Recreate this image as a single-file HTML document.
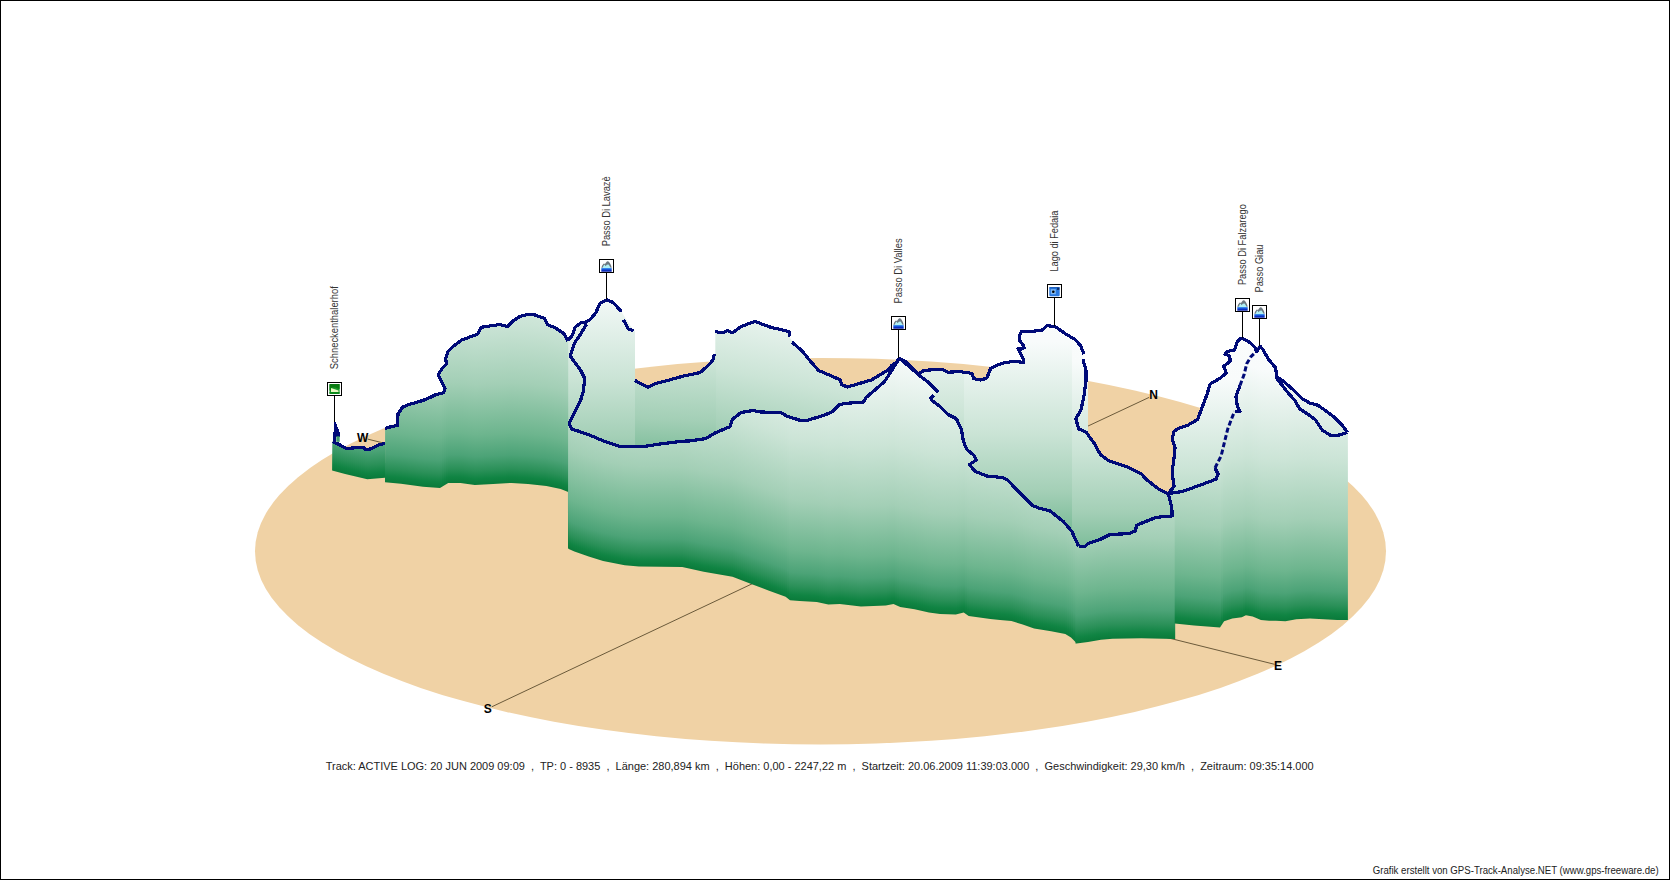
<!DOCTYPE html><html><head><meta charset="utf-8"><style>html,body{margin:0;padding:0;background:#fff;overflow:hidden}svg{display:block}</style></head><body>
<svg width="1670" height="880" viewBox="0 0 1670 880">
<defs>
<linearGradient id="g" x1="0" y1="0" x2="0" y2="1"><stop offset="0" stop-color="#ffffff"/><stop offset="0.3571" stop-color="#f8fbfb"/><stop offset="0.5714" stop-color="#cbe4d6"/><stop offset="0.7143" stop-color="#a3cfb6"/><stop offset="0.8333" stop-color="#6db58e"/><stop offset="0.8857" stop-color="#4ca377"/><stop offset="0.9190" stop-color="#2a9058"/><stop offset="0.9381" stop-color="#108443"/><stop offset="0.9524" stop-color="#0a7a3a"/><stop offset="1" stop-color="#0a7b3b"/></linearGradient>
<linearGradient id="ic" x1="0" y1="0" x2="0" y2="1"><stop offset="0" stop-color="#9fd8ff"/><stop offset="0.45" stop-color="#2a8df0"/><stop offset="1" stop-color="#0a2fa8"/></linearGradient>
<clipPath id="cB2"><polygon points="715.3,331.7 722.5,332.7 727.6,330.7 732.7,332.7 740.9,326.6 749.1,323.5 755.2,321.5 763.4,324.6 771.6,327.6 781.8,329.7 789.0,331.7 790.0,337.9 794.1,344.0 802.3,351.2 810.5,361.4 818.7,370.6 831.0,375.7 840.5,380.0 841.6,384.5 847.2,387.0 855.9,384.5 871.8,379.8 887.7,370.2 891.7,365.5 897.3,361.5 899.1,358.3 899.1,600.0 715.3,600.0"/></clipPath>
<clipPath id="cB1"><polygon points="634.7,380.3 641.8,384.3 648.0,387.4 656.2,383.3 668.4,380.3 682.8,376.2 693.0,374.1 700.0,372.6 703.2,370.0 710.2,363.4 713.3,359.3 714.3,354.2 716.0,354.2 716.0,520.0 634.7,520.0"/></clipPath>
<clipPath id="cW3"><polygon points="899.1,358.3 905.2,361.4 918.0,374.0 924.0,370.4 941.9,369.2 947.9,372.2 959.9,371.6 971.9,373.4 973.7,378.7 980.8,380.0 986.8,378.1 990.7,368.3 996.4,365.5 1004.9,362.6 1013.4,361.5 1023.6,362.3 1023.0,358.6 1020.2,353.0 1018.0,348.4 1021.4,349.0 1024.2,347.8 1023.0,345.0 1019.1,339.9 1019.7,334.8 1021.4,331.4 1031.6,331.4 1041.9,330.3 1047.1,325.6 1055.2,326.6 1065.5,333.8 1075.7,339.9 1080.8,346.0 1083.9,354.2 1082.9,359.3 1085.9,369.6 1085.9,381.8 1088.0,381.8 1088.0,433.0 1094.3,443.4 1100.5,454.7 1108.6,460.8 1127.1,467.0 1141.4,474.1 1147.5,480.3 1157.7,488.4 1168.0,493.6 1172.1,515.0 1172.1,620.0 899.1,620.0"/></clipPath>
<clipPath id="cFZ"><polygon points="1168.0,493.6 1174.1,486.4 1172.1,472.1 1174.1,457.7 1175.1,447.5 1172.1,439.3 1174.1,431.2 1180.0,427.7 1188.2,425.0 1197.7,419.5 1199.1,415.5 1203.2,404.5 1207.3,393.6 1210.0,384.1 1219.5,378.6 1226.4,373.2 1223.6,366.4 1230.5,360.9 1229.1,355.5 1225.0,354.1 1227.7,351.4 1234.5,350.0 1237.3,341.8 1240.7,338.4 1244.1,339.1 1250.9,343.2 1255.0,347.3 1256.4,351.4 1259.1,348.6 1259.8,345.9 1259.8,345.9 1256.4,351.4 1250.9,356.8 1246.8,363.6 1244.1,374.5 1240.0,385.5 1235.9,396.4 1237.3,405.9 1240.0,411.4 1234.5,411.4 1231.8,418.2 1227.7,429.1 1225.0,440.0 1221.2,455.7 1215.0,468.0 1218.1,474.1 1216.1,479.2 1196.6,486.4 1182.3,491.5 1168.0,493.6"/></clipPath>
<clipPath id="cL"><polygon points="567.8,340.9 572.3,335.2 575.3,327.1 580.5,323.0 586.6,321.9 590.7,318.9 595.8,312.7 599.9,303.5 606.6,299.8 613.2,302.5 621.4,311.7 633.7,330.7 635.0,330.7 635.0,548.0 568.0,548.0"/></clipPath>
<clipPath id="cR2"><polygon points="385.1,428.4 390.0,427.0 397.5,425.4 398.0,414.0 402.7,407.0 408.6,404.7 423.4,400.3 430.0,397.5 435.5,394.8 443.6,392.8 445.0,388.7 440.9,380.5 438.2,374.4 442.3,368.2 446.4,364.1 445.7,358.7 447.7,351.8 453.2,346.4 461.4,340.2 466.8,338.2 477.7,334.1 481.2,327.3 490.0,325.9 499.6,324.6 507.8,326.6 511.9,321.8 520.0,316.4 528.2,314.3 535.0,315.0 544.6,318.4 547.3,324.6 555.5,328.0 563.7,333.4 567.8,340.9 568.2,340.9 568.2,492.0 560.7,489.0 546.4,485.9 528.0,483.9 511.6,482.9 493.2,483.9 474.8,484.9 460.5,482.9 448.2,482.9 440.0,488.0 423.0,486.7 401.0,483.7 385.0,482.2"/></clipPath>
<clipPath id="cR1"><polygon points="332.3,441.5 332.8,441.5 340.0,445.0 346.6,448.5 350.0,448.2 363.6,447.2 365.3,449.5 371.1,448.9 377.3,445.5 385.0,443.1 385.0,477.8 367.3,479.3 345.1,474.1 332.1,470.4"/></clipPath>
<clipPath id="cF1"><polygon points="568.2,423.2 569.2,423.2 570.0,425.6 572.3,429.4 577.1,430.7 590.7,435.5 605.0,441.6 621.4,446.8 641.8,446.8 662.3,443.7 682.8,441.2 690.0,440.9 705.9,438.6 715.0,433.0 729.8,426.7 732.6,419.3 740.9,412.5 753.2,410.5 760.0,411.9 781.0,412.7 786.8,416.0 800.2,420.4 807.0,420.4 823.7,415.4 832.1,411.9 838.8,405.1 843.8,403.5 863.9,402.0 866.3,397.3 875.8,389.3 884.6,381.4 890.9,371.8 895.7,363.9 899.1,358.3 903.2,361.4 911.4,368.5 919.6,375.7 927.7,381.8 938.0,392.1 933.9,395.1 930.8,398.2 931.8,400.3 940.0,406.4 948.2,414.6 956.4,418.7 961.5,429.9 963.4,441.4 966.8,449.5 973.6,455.0 976.4,459.8 969.5,464.5 975.0,471.4 987.3,476.1 1002.3,477.5 1007.7,480.2 1021.3,494.5 1032.2,505.4 1039.1,508.2 1050.0,510.9 1063.6,521.8 1071.8,531.3 1078.6,546.3 1076.7,643.2 1071.0,637.5 1065.3,634.1 1051.1,631.3 1034.1,628.4 1022.7,624.4 1011.4,621.0 1000.0,619.9 990.3,618.9 968.7,616.0 963.7,612.5 955.8,614.6 940.0,613.9 928.9,612.6 914.6,609.3 900.2,606.9 893.5,604.0 885.8,605.4 860.9,606.4 839.8,604.0 828.3,604.5 816.8,602.1 799.6,601.1 790.0,600.2 785.6,596.8 768.4,590.4 752.6,584.6 732.5,576.7 703.7,571.7 682.2,567.1 639.0,566.6 624.7,565.2 603.1,560.9 588.7,556.6 574.4,551.6 568.2,548.7"/></clipPath>
<clipPath id="cF2"><polygon points="1077.6,546.3 1078.6,546.3 1084.5,546.6 1088.2,543.6 1100.9,539.1 1110.0,534.5 1129.1,533.6 1135.5,530.9 1136.4,525.5 1142.7,522.7 1156.4,517.3 1172.1,516.0 1175.2,516.0 1175.2,639.0 1174.5,639.0 1141.2,638.3 1112.5,638.8 1101.0,639.8 1088.0,641.9 1076.5,643.4 1075.5,643.4"/></clipPath>
<clipPath id="cF3"><polygon points="1174.7,623.4 1174.7,516.0 1172.1,516.0 1168.0,493.6 1182.3,491.5 1196.6,486.4 1216.1,479.2 1218.1,474.1 1215.0,468.0 1221.2,455.7 1225.0,440.0 1227.7,429.1 1231.8,418.2 1234.5,411.4 1240.0,411.4 1237.3,405.9 1235.9,396.4 1240.0,385.5 1244.1,374.5 1246.8,363.6 1250.9,356.8 1256.4,351.4 1259.8,345.9 1263.2,350.0 1268.6,359.5 1275.5,367.7 1276.8,376.8 1283.6,381.4 1292.7,389.3 1301.8,398.4 1309.8,403.0 1317.7,405.2 1324.5,409.8 1333.6,416.6 1342.7,425.7 1347.3,432.5 1347.9,432.5 1347.9,620.0 1337.2,620.0 1323.6,619.3 1310.0,618.6 1296.3,619.3 1285.4,621.3 1275.9,620.7 1269.1,620.7 1260.9,620.0 1252.7,616.6 1245.9,615.2 1241.8,617.3 1232.3,618.6 1224.1,621.3 1220.0,627.5 1194.1,625.4 1174.7,623.4"/></clipPath>
<linearGradient id="wat" x1="0" y1="0" x2="0" y2="1"><stop offset="0" stop-color="#40a0f8"/><stop offset="0.5" stop-color="#1040d0"/><stop offset="1" stop-color="#0010a0"/></linearGradient>
<g id="mtn"><path d="M2.3,8.8 L3.3,6.3 L4.8,4.6 L6,4.9 L7.2,3.2 L8.2,2.3 L9.6,2.5 L10.8,4 L12,6.2 L12.7,8.8 Z" fill="#6c7880"/><path d="M3.6,9 L4.6,6.6 L5.6,5.6 L6.6,7.2 L7.8,5.8 L9.6,5.6 L10.6,7 L11.6,9 Z" fill="#b0f0f4"/><rect x="2.3" y="9" width="10.4" height="3.7" fill="url(#wat)"/></g>
</defs>
<rect x="0.5" y="0.5" width="1669" height="879" fill="#fff" stroke="#000" stroke-width="1"/>
<ellipse cx="820.5" cy="551.2" rx="565.5" ry="193.3" fill="#f0d2a5"/>
<line x1="367.7" y1="439.1" x2="820.5" y2="551.5" stroke="#6b5a3a" stroke-width="1"/>
<line x1="491.8" y1="706.8" x2="820.5" y2="551.5" stroke="#6b5a3a" stroke-width="1"/>
<line x1="1149.1" y1="397.4" x2="820.5" y2="551.5" stroke="#6b5a3a" stroke-width="1"/>
<line x1="1274.5" y1="664.3" x2="820.5" y2="551.5" stroke="#6b5a3a" stroke-width="1"/>
<g clip-path="url(#cB2)" shape-rendering="crispEdges">
<rect x="714" y="128.0" width="2" height="420" fill="url(#g)"/>
<rect x="716" y="128.4" width="2" height="420" fill="url(#g)"/>
<rect x="718" y="128.8" width="2" height="420" fill="url(#g)"/>
<rect x="720" y="129.2" width="2" height="420" fill="url(#g)"/>
<rect x="722" y="129.6" width="2" height="420" fill="url(#g)"/>
<rect x="724" y="130.0" width="2" height="420" fill="url(#g)"/>
<rect x="726" y="130.4" width="2" height="420" fill="url(#g)"/>
<rect x="728" y="130.8" width="2" height="420" fill="url(#g)"/>
<rect x="730" y="131.2" width="2" height="420" fill="url(#g)"/>
<rect x="732" y="131.6" width="2" height="420" fill="url(#g)"/>
<rect x="734" y="132.0" width="2" height="420" fill="url(#g)"/>
<rect x="736" y="132.4" width="2" height="420" fill="url(#g)"/>
<rect x="738" y="132.8" width="2" height="420" fill="url(#g)"/>
<rect x="740" y="133.2" width="2" height="420" fill="url(#g)"/>
<rect x="742" y="133.6" width="2" height="420" fill="url(#g)"/>
<rect x="744" y="134.0" width="2" height="420" fill="url(#g)"/>
<rect x="746" y="134.4" width="2" height="420" fill="url(#g)"/>
<rect x="748" y="134.8" width="2" height="420" fill="url(#g)"/>
<rect x="750" y="135.2" width="2" height="420" fill="url(#g)"/>
<rect x="752" y="135.6" width="2" height="420" fill="url(#g)"/>
<rect x="754" y="136.0" width="2" height="420" fill="url(#g)"/>
<rect x="756" y="136.4" width="2" height="420" fill="url(#g)"/>
<rect x="758" y="136.8" width="2" height="420" fill="url(#g)"/>
<rect x="760" y="137.2" width="2" height="420" fill="url(#g)"/>
<rect x="762" y="137.6" width="2" height="420" fill="url(#g)"/>
<rect x="764" y="138.0" width="2" height="420" fill="url(#g)"/>
<rect x="766" y="138.4" width="2" height="420" fill="url(#g)"/>
<rect x="768" y="138.8" width="2" height="420" fill="url(#g)"/>
<rect x="770" y="139.2" width="2" height="420" fill="url(#g)"/>
<rect x="772" y="139.6" width="2" height="420" fill="url(#g)"/>
<rect x="774" y="140.0" width="2" height="420" fill="url(#g)"/>
<rect x="776" y="140.4" width="2" height="420" fill="url(#g)"/>
<rect x="778" y="140.8" width="2" height="420" fill="url(#g)"/>
<rect x="780" y="141.2" width="2" height="420" fill="url(#g)"/>
<rect x="782" y="141.6" width="2" height="420" fill="url(#g)"/>
<rect x="784" y="142.0" width="2" height="420" fill="url(#g)"/>
<rect x="786" y="142.4" width="2" height="420" fill="url(#g)"/>
<rect x="788" y="142.8" width="2" height="420" fill="url(#g)"/>
<rect x="790" y="143.2" width="2" height="420" fill="url(#g)"/>
<rect x="792" y="143.6" width="2" height="420" fill="url(#g)"/>
<rect x="794" y="144.0" width="2" height="420" fill="url(#g)"/>
<rect x="796" y="144.4" width="2" height="420" fill="url(#g)"/>
<rect x="798" y="144.8" width="2" height="420" fill="url(#g)"/>
<rect x="800" y="145.2" width="2" height="420" fill="url(#g)"/>
<rect x="802" y="145.6" width="2" height="420" fill="url(#g)"/>
<rect x="804" y="146.0" width="2" height="420" fill="url(#g)"/>
<rect x="806" y="146.4" width="2" height="420" fill="url(#g)"/>
<rect x="808" y="146.8" width="2" height="420" fill="url(#g)"/>
<rect x="810" y="147.2" width="2" height="420" fill="url(#g)"/>
<rect x="812" y="147.6" width="2" height="420" fill="url(#g)"/>
<rect x="814" y="148.0" width="2" height="420" fill="url(#g)"/>
<rect x="816" y="148.4" width="2" height="420" fill="url(#g)"/>
<rect x="818" y="148.8" width="2" height="420" fill="url(#g)"/>
<rect x="820" y="149.2" width="2" height="420" fill="url(#g)"/>
<rect x="822" y="149.6" width="2" height="420" fill="url(#g)"/>
<rect x="824" y="150.1" width="2" height="420" fill="url(#g)"/>
<rect x="826" y="150.5" width="2" height="420" fill="url(#g)"/>
<rect x="828" y="150.9" width="2" height="420" fill="url(#g)"/>
<rect x="830" y="151.3" width="2" height="420" fill="url(#g)"/>
<rect x="832" y="151.7" width="2" height="420" fill="url(#g)"/>
<rect x="834" y="152.1" width="2" height="420" fill="url(#g)"/>
<rect x="836" y="152.5" width="2" height="420" fill="url(#g)"/>
<rect x="838" y="152.9" width="2" height="420" fill="url(#g)"/>
<rect x="840" y="153.3" width="2" height="420" fill="url(#g)"/>
<rect x="842" y="153.7" width="2" height="420" fill="url(#g)"/>
<rect x="844" y="154.1" width="2" height="420" fill="url(#g)"/>
<rect x="846" y="154.5" width="2" height="420" fill="url(#g)"/>
<rect x="848" y="154.9" width="2" height="420" fill="url(#g)"/>
<rect x="850" y="155.3" width="2" height="420" fill="url(#g)"/>
<rect x="852" y="155.7" width="2" height="420" fill="url(#g)"/>
<rect x="854" y="156.1" width="2" height="420" fill="url(#g)"/>
<rect x="856" y="156.5" width="2" height="420" fill="url(#g)"/>
<rect x="858" y="156.9" width="2" height="420" fill="url(#g)"/>
<rect x="860" y="157.3" width="2" height="420" fill="url(#g)"/>
<rect x="862" y="157.7" width="2" height="420" fill="url(#g)"/>
<rect x="864" y="158.1" width="2" height="420" fill="url(#g)"/>
<rect x="866" y="158.5" width="2" height="420" fill="url(#g)"/>
<rect x="868" y="158.9" width="2" height="420" fill="url(#g)"/>
<rect x="870" y="159.3" width="2" height="420" fill="url(#g)"/>
<rect x="872" y="159.7" width="2" height="420" fill="url(#g)"/>
<rect x="874" y="160.2" width="2" height="420" fill="url(#g)"/>
<rect x="876" y="160.6" width="2" height="420" fill="url(#g)"/>
<rect x="878" y="161.0" width="2" height="420" fill="url(#g)"/>
<rect x="880" y="161.4" width="2" height="420" fill="url(#g)"/>
<rect x="882" y="161.8" width="2" height="420" fill="url(#g)"/>
<rect x="884" y="162.2" width="2" height="420" fill="url(#g)"/>
<rect x="886" y="162.6" width="2" height="420" fill="url(#g)"/>
<rect x="888" y="163.0" width="2" height="420" fill="url(#g)"/>
<rect x="890" y="163.4" width="2" height="420" fill="url(#g)"/>
<rect x="892" y="163.8" width="2" height="420" fill="url(#g)"/>
<rect x="894" y="164.2" width="2" height="420" fill="url(#g)"/>
<rect x="896" y="164.6" width="2" height="420" fill="url(#g)"/>
<rect x="898" y="165.0" width="2" height="420" fill="url(#g)"/>
<rect x="900" y="165.0" width="2" height="420" fill="url(#g)"/>
</g>
<g clip-path="url(#cB1)" shape-rendering="crispEdges">
<rect x="633" y="118.0" width="2" height="420" fill="url(#g)"/>
<rect x="635" y="118.0" width="2" height="420" fill="url(#g)"/>
<rect x="637" y="118.1" width="2" height="420" fill="url(#g)"/>
<rect x="639" y="118.2" width="2" height="420" fill="url(#g)"/>
<rect x="641" y="118.4" width="2" height="420" fill="url(#g)"/>
<rect x="643" y="118.5" width="2" height="420" fill="url(#g)"/>
<rect x="645" y="118.5" width="2" height="420" fill="url(#g)"/>
<rect x="647" y="118.6" width="2" height="420" fill="url(#g)"/>
<rect x="649" y="118.8" width="2" height="420" fill="url(#g)"/>
<rect x="651" y="118.9" width="2" height="420" fill="url(#g)"/>
<rect x="653" y="119.0" width="2" height="420" fill="url(#g)"/>
<rect x="655" y="119.0" width="2" height="420" fill="url(#g)"/>
<rect x="657" y="119.1" width="2" height="420" fill="url(#g)"/>
<rect x="659" y="119.2" width="2" height="420" fill="url(#g)"/>
<rect x="661" y="119.4" width="2" height="420" fill="url(#g)"/>
<rect x="663" y="119.5" width="2" height="420" fill="url(#g)"/>
<rect x="665" y="119.5" width="2" height="420" fill="url(#g)"/>
<rect x="667" y="119.6" width="2" height="420" fill="url(#g)"/>
<rect x="669" y="119.8" width="2" height="420" fill="url(#g)"/>
<rect x="671" y="119.9" width="2" height="420" fill="url(#g)"/>
<rect x="673" y="120.0" width="2" height="420" fill="url(#g)"/>
<rect x="675" y="120.0" width="2" height="420" fill="url(#g)"/>
<rect x="677" y="120.1" width="2" height="420" fill="url(#g)"/>
<rect x="679" y="120.2" width="2" height="420" fill="url(#g)"/>
<rect x="681" y="120.4" width="2" height="420" fill="url(#g)"/>
<rect x="683" y="120.5" width="2" height="420" fill="url(#g)"/>
<rect x="685" y="120.5" width="2" height="420" fill="url(#g)"/>
<rect x="687" y="120.6" width="2" height="420" fill="url(#g)"/>
<rect x="689" y="120.8" width="2" height="420" fill="url(#g)"/>
<rect x="691" y="120.9" width="2" height="420" fill="url(#g)"/>
<rect x="693" y="121.0" width="2" height="420" fill="url(#g)"/>
<rect x="695" y="121.0" width="2" height="420" fill="url(#g)"/>
<rect x="697" y="121.1" width="2" height="420" fill="url(#g)"/>
<rect x="699" y="121.2" width="2" height="420" fill="url(#g)"/>
<rect x="701" y="121.4" width="2" height="420" fill="url(#g)"/>
<rect x="703" y="121.5" width="2" height="420" fill="url(#g)"/>
<rect x="705" y="121.5" width="2" height="420" fill="url(#g)"/>
<rect x="707" y="121.6" width="2" height="420" fill="url(#g)"/>
<rect x="709" y="121.8" width="2" height="420" fill="url(#g)"/>
<rect x="711" y="121.9" width="2" height="420" fill="url(#g)"/>
<rect x="713" y="122.0" width="2" height="420" fill="url(#g)"/>
<rect x="715" y="122.0" width="2" height="420" fill="url(#g)"/>
<rect x="717" y="122.0" width="2" height="420" fill="url(#g)"/>
</g>
<g clip-path="url(#cW3)" shape-rendering="crispEdges">
<rect x="898" y="175.0" width="2" height="420" fill="url(#g)"/>
<rect x="900" y="175.0" width="2" height="420" fill="url(#g)"/>
<rect x="902" y="175.0" width="2" height="420" fill="url(#g)"/>
<rect x="904" y="175.0" width="2" height="420" fill="url(#g)"/>
<rect x="906" y="175.0" width="2" height="420" fill="url(#g)"/>
<rect x="908" y="175.0" width="2" height="420" fill="url(#g)"/>
<rect x="910" y="175.0" width="2" height="420" fill="url(#g)"/>
<rect x="912" y="175.0" width="2" height="420" fill="url(#g)"/>
<rect x="914" y="175.0" width="2" height="420" fill="url(#g)"/>
<rect x="916" y="175.0" width="2" height="420" fill="url(#g)"/>
<rect x="918" y="175.0" width="2" height="420" fill="url(#g)"/>
<rect x="920" y="175.0" width="2" height="420" fill="url(#g)"/>
<rect x="922" y="175.0" width="2" height="420" fill="url(#g)"/>
<rect x="924" y="175.0" width="2" height="420" fill="url(#g)"/>
<rect x="926" y="175.0" width="2" height="420" fill="url(#g)"/>
<rect x="928" y="175.0" width="2" height="420" fill="url(#g)"/>
<rect x="930" y="175.0" width="2" height="420" fill="url(#g)"/>
<rect x="932" y="175.0" width="2" height="420" fill="url(#g)"/>
<rect x="934" y="175.0" width="2" height="420" fill="url(#g)"/>
<rect x="936" y="175.0" width="2" height="420" fill="url(#g)"/>
<rect x="938" y="175.0" width="2" height="420" fill="url(#g)"/>
<rect x="940" y="175.0" width="2" height="420" fill="url(#g)"/>
<rect x="942" y="175.0" width="2" height="420" fill="url(#g)"/>
<rect x="944" y="175.0" width="2" height="420" fill="url(#g)"/>
<rect x="946" y="175.0" width="2" height="420" fill="url(#g)"/>
<rect x="948" y="175.0" width="2" height="420" fill="url(#g)"/>
<rect x="950" y="175.0" width="2" height="420" fill="url(#g)"/>
<rect x="952" y="175.0" width="2" height="420" fill="url(#g)"/>
<rect x="954" y="175.0" width="2" height="420" fill="url(#g)"/>
<rect x="956" y="175.0" width="2" height="420" fill="url(#g)"/>
<rect x="958" y="175.0" width="2" height="420" fill="url(#g)"/>
<rect x="960" y="175.0" width="2" height="420" fill="url(#g)"/>
<rect x="962" y="175.0" width="2" height="420" fill="url(#g)"/>
<rect x="964" y="192.0" width="2" height="420" fill="url(#g)"/>
<rect x="966" y="192.0" width="2" height="420" fill="url(#g)"/>
<rect x="968" y="192.0" width="2" height="420" fill="url(#g)"/>
<rect x="970" y="192.0" width="2" height="420" fill="url(#g)"/>
<rect x="972" y="192.0" width="2" height="420" fill="url(#g)"/>
<rect x="974" y="192.0" width="2" height="420" fill="url(#g)"/>
<rect x="976" y="192.0" width="2" height="420" fill="url(#g)"/>
<rect x="978" y="192.0" width="2" height="420" fill="url(#g)"/>
<rect x="980" y="192.0" width="2" height="420" fill="url(#g)"/>
<rect x="982" y="192.0" width="2" height="420" fill="url(#g)"/>
<rect x="984" y="192.0" width="2" height="420" fill="url(#g)"/>
<rect x="986" y="192.0" width="2" height="420" fill="url(#g)"/>
<rect x="988" y="192.0" width="2" height="420" fill="url(#g)"/>
<rect x="990" y="192.0" width="2" height="420" fill="url(#g)"/>
<rect x="992" y="192.0" width="2" height="420" fill="url(#g)"/>
<rect x="994" y="192.0" width="2" height="420" fill="url(#g)"/>
<rect x="996" y="192.0" width="2" height="420" fill="url(#g)"/>
<rect x="998" y="192.0" width="2" height="420" fill="url(#g)"/>
<rect x="1000" y="192.0" width="2" height="420" fill="url(#g)"/>
<rect x="1002" y="192.0" width="2" height="420" fill="url(#g)"/>
<rect x="1004" y="192.0" width="2" height="420" fill="url(#g)"/>
<rect x="1006" y="192.0" width="2" height="420" fill="url(#g)"/>
<rect x="1008" y="192.0" width="2" height="420" fill="url(#g)"/>
<rect x="1010" y="192.0" width="2" height="420" fill="url(#g)"/>
<rect x="1012" y="192.0" width="2" height="420" fill="url(#g)"/>
<rect x="1014" y="192.0" width="2" height="420" fill="url(#g)"/>
<rect x="1016" y="192.0" width="2" height="420" fill="url(#g)"/>
<rect x="1018" y="192.0" width="2" height="420" fill="url(#g)"/>
<rect x="1020" y="192.0" width="2" height="420" fill="url(#g)"/>
<rect x="1022" y="192.0" width="2" height="420" fill="url(#g)"/>
<rect x="1024" y="192.0" width="2" height="420" fill="url(#g)"/>
<rect x="1026" y="192.0" width="2" height="420" fill="url(#g)"/>
<rect x="1028" y="192.0" width="2" height="420" fill="url(#g)"/>
<rect x="1030" y="192.0" width="2" height="420" fill="url(#g)"/>
<rect x="1032" y="192.0" width="2" height="420" fill="url(#g)"/>
<rect x="1034" y="192.0" width="2" height="420" fill="url(#g)"/>
<rect x="1036" y="192.0" width="2" height="420" fill="url(#g)"/>
<rect x="1038" y="192.0" width="2" height="420" fill="url(#g)"/>
<rect x="1040" y="192.0" width="2" height="420" fill="url(#g)"/>
<rect x="1042" y="192.0" width="2" height="420" fill="url(#g)"/>
<rect x="1044" y="192.0" width="2" height="420" fill="url(#g)"/>
<rect x="1046" y="192.0" width="2" height="420" fill="url(#g)"/>
<rect x="1048" y="192.0" width="2" height="420" fill="url(#g)"/>
<rect x="1050" y="192.0" width="2" height="420" fill="url(#g)"/>
<rect x="1052" y="192.0" width="2" height="420" fill="url(#g)"/>
<rect x="1054" y="192.0" width="2" height="420" fill="url(#g)"/>
<rect x="1056" y="192.0" width="2" height="420" fill="url(#g)"/>
<rect x="1058" y="192.0" width="2" height="420" fill="url(#g)"/>
<rect x="1060" y="192.0" width="2" height="420" fill="url(#g)"/>
<rect x="1062" y="192.0" width="2" height="420" fill="url(#g)"/>
<rect x="1064" y="192.0" width="2" height="420" fill="url(#g)"/>
<rect x="1066" y="192.0" width="2" height="420" fill="url(#g)"/>
<rect x="1068" y="192.0" width="2" height="420" fill="url(#g)"/>
<rect x="1070" y="192.0" width="2" height="420" fill="url(#g)"/>
<rect x="1072" y="212.0" width="2" height="420" fill="url(#g)"/>
<rect x="1074" y="212.0" width="2" height="420" fill="url(#g)"/>
<rect x="1076" y="212.0" width="2" height="420" fill="url(#g)"/>
<rect x="1078" y="212.0" width="2" height="420" fill="url(#g)"/>
<rect x="1080" y="212.0" width="2" height="420" fill="url(#g)"/>
<rect x="1082" y="212.0" width="2" height="420" fill="url(#g)"/>
<rect x="1084" y="212.0" width="2" height="420" fill="url(#g)"/>
<rect x="1086" y="212.0" width="2" height="420" fill="url(#g)"/>
<rect x="1088" y="212.0" width="2" height="420" fill="url(#g)"/>
<rect x="1090" y="212.0" width="2" height="420" fill="url(#g)"/>
<rect x="1092" y="212.0" width="2" height="420" fill="url(#g)"/>
<rect x="1094" y="212.0" width="2" height="420" fill="url(#g)"/>
<rect x="1096" y="212.0" width="2" height="420" fill="url(#g)"/>
<rect x="1098" y="212.0" width="2" height="420" fill="url(#g)"/>
<rect x="1100" y="212.0" width="2" height="420" fill="url(#g)"/>
<rect x="1102" y="212.0" width="2" height="420" fill="url(#g)"/>
<rect x="1104" y="212.0" width="2" height="420" fill="url(#g)"/>
<rect x="1106" y="212.0" width="2" height="420" fill="url(#g)"/>
<rect x="1108" y="212.0" width="2" height="420" fill="url(#g)"/>
<rect x="1110" y="212.0" width="2" height="420" fill="url(#g)"/>
<rect x="1112" y="212.0" width="2" height="420" fill="url(#g)"/>
<rect x="1114" y="212.0" width="2" height="420" fill="url(#g)"/>
<rect x="1116" y="212.0" width="2" height="420" fill="url(#g)"/>
<rect x="1118" y="212.0" width="2" height="420" fill="url(#g)"/>
<rect x="1120" y="212.0" width="2" height="420" fill="url(#g)"/>
<rect x="1122" y="212.0" width="2" height="420" fill="url(#g)"/>
<rect x="1124" y="212.0" width="2" height="420" fill="url(#g)"/>
<rect x="1126" y="212.0" width="2" height="420" fill="url(#g)"/>
<rect x="1128" y="212.0" width="2" height="420" fill="url(#g)"/>
<rect x="1130" y="212.0" width="2" height="420" fill="url(#g)"/>
<rect x="1132" y="212.0" width="2" height="420" fill="url(#g)"/>
<rect x="1134" y="212.0" width="2" height="420" fill="url(#g)"/>
<rect x="1136" y="212.0" width="2" height="420" fill="url(#g)"/>
<rect x="1138" y="212.0" width="2" height="420" fill="url(#g)"/>
<rect x="1140" y="212.0" width="2" height="420" fill="url(#g)"/>
<rect x="1142" y="212.0" width="2" height="420" fill="url(#g)"/>
<rect x="1144" y="212.0" width="2" height="420" fill="url(#g)"/>
<rect x="1146" y="212.0" width="2" height="420" fill="url(#g)"/>
<rect x="1148" y="212.0" width="2" height="420" fill="url(#g)"/>
<rect x="1150" y="212.0" width="2" height="420" fill="url(#g)"/>
<rect x="1152" y="212.0" width="2" height="420" fill="url(#g)"/>
<rect x="1154" y="212.0" width="2" height="420" fill="url(#g)"/>
<rect x="1156" y="212.0" width="2" height="420" fill="url(#g)"/>
<rect x="1158" y="212.0" width="2" height="420" fill="url(#g)"/>
<rect x="1160" y="212.0" width="2" height="420" fill="url(#g)"/>
<rect x="1162" y="212.0" width="2" height="420" fill="url(#g)"/>
<rect x="1164" y="212.0" width="2" height="420" fill="url(#g)"/>
<rect x="1166" y="212.0" width="2" height="420" fill="url(#g)"/>
<rect x="1168" y="212.0" width="2" height="420" fill="url(#g)"/>
<rect x="1170" y="212.0" width="2" height="420" fill="url(#g)"/>
<rect x="1172" y="212.0" width="2" height="420" fill="url(#g)"/>
</g>
<g clip-path="url(#cFZ)" shape-rendering="crispEdges">
<rect x="1167" y="230.0" width="2" height="420" fill="url(#g)"/>
<rect x="1169" y="230.0" width="2" height="420" fill="url(#g)"/>
<rect x="1171" y="230.0" width="2" height="420" fill="url(#g)"/>
<rect x="1173" y="230.0" width="2" height="420" fill="url(#g)"/>
<rect x="1175" y="230.0" width="2" height="420" fill="url(#g)"/>
<rect x="1177" y="230.0" width="2" height="420" fill="url(#g)"/>
<rect x="1179" y="230.0" width="2" height="420" fill="url(#g)"/>
<rect x="1181" y="230.0" width="2" height="420" fill="url(#g)"/>
<rect x="1183" y="230.0" width="2" height="420" fill="url(#g)"/>
<rect x="1185" y="230.0" width="2" height="420" fill="url(#g)"/>
<rect x="1187" y="230.0" width="2" height="420" fill="url(#g)"/>
<rect x="1189" y="230.0" width="2" height="420" fill="url(#g)"/>
<rect x="1191" y="230.0" width="2" height="420" fill="url(#g)"/>
<rect x="1193" y="230.0" width="2" height="420" fill="url(#g)"/>
<rect x="1195" y="230.0" width="2" height="420" fill="url(#g)"/>
<rect x="1197" y="230.0" width="2" height="420" fill="url(#g)"/>
<rect x="1199" y="230.0" width="2" height="420" fill="url(#g)"/>
<rect x="1201" y="230.0" width="2" height="420" fill="url(#g)"/>
<rect x="1203" y="230.0" width="2" height="420" fill="url(#g)"/>
<rect x="1205" y="230.0" width="2" height="420" fill="url(#g)"/>
<rect x="1207" y="230.0" width="2" height="420" fill="url(#g)"/>
<rect x="1209" y="230.0" width="2" height="420" fill="url(#g)"/>
<rect x="1211" y="230.0" width="2" height="420" fill="url(#g)"/>
<rect x="1213" y="230.0" width="2" height="420" fill="url(#g)"/>
<rect x="1215" y="230.0" width="2" height="420" fill="url(#g)"/>
<rect x="1217" y="230.0" width="2" height="420" fill="url(#g)"/>
<rect x="1219" y="230.0" width="2" height="420" fill="url(#g)"/>
<rect x="1221" y="230.0" width="2" height="420" fill="url(#g)"/>
<rect x="1223" y="230.0" width="2" height="420" fill="url(#g)"/>
<rect x="1225" y="230.0" width="2" height="420" fill="url(#g)"/>
<rect x="1227" y="230.0" width="2" height="420" fill="url(#g)"/>
<rect x="1229" y="230.0" width="2" height="420" fill="url(#g)"/>
<rect x="1231" y="230.0" width="2" height="420" fill="url(#g)"/>
<rect x="1233" y="230.0" width="2" height="420" fill="url(#g)"/>
<rect x="1235" y="230.0" width="2" height="420" fill="url(#g)"/>
<rect x="1237" y="230.0" width="2" height="420" fill="url(#g)"/>
<rect x="1239" y="230.0" width="2" height="420" fill="url(#g)"/>
<rect x="1241" y="230.0" width="2" height="420" fill="url(#g)"/>
<rect x="1243" y="230.0" width="2" height="420" fill="url(#g)"/>
<rect x="1245" y="230.0" width="2" height="420" fill="url(#g)"/>
<rect x="1247" y="230.0" width="2" height="420" fill="url(#g)"/>
<rect x="1249" y="230.0" width="2" height="420" fill="url(#g)"/>
<rect x="1251" y="230.0" width="2" height="420" fill="url(#g)"/>
<rect x="1253" y="230.0" width="2" height="420" fill="url(#g)"/>
<rect x="1255" y="230.0" width="2" height="420" fill="url(#g)"/>
<rect x="1257" y="230.0" width="2" height="420" fill="url(#g)"/>
<rect x="1259" y="230.0" width="2" height="420" fill="url(#g)"/>
</g>
<g clip-path="url(#cL)" shape-rendering="crispEdges">
<rect x="566" y="138.0" width="2" height="420" fill="url(#g)"/>
<rect x="568" y="138.0" width="2" height="420" fill="url(#g)"/>
<rect x="570" y="138.0" width="2" height="420" fill="url(#g)"/>
<rect x="572" y="138.0" width="2" height="420" fill="url(#g)"/>
<rect x="574" y="138.0" width="2" height="420" fill="url(#g)"/>
<rect x="576" y="138.0" width="2" height="420" fill="url(#g)"/>
<rect x="578" y="138.0" width="2" height="420" fill="url(#g)"/>
<rect x="580" y="138.0" width="2" height="420" fill="url(#g)"/>
<rect x="582" y="138.0" width="2" height="420" fill="url(#g)"/>
<rect x="584" y="138.0" width="2" height="420" fill="url(#g)"/>
<rect x="586" y="138.0" width="2" height="420" fill="url(#g)"/>
<rect x="588" y="138.0" width="2" height="420" fill="url(#g)"/>
<rect x="590" y="138.0" width="2" height="420" fill="url(#g)"/>
<rect x="592" y="138.0" width="2" height="420" fill="url(#g)"/>
<rect x="594" y="138.0" width="2" height="420" fill="url(#g)"/>
<rect x="596" y="138.0" width="2" height="420" fill="url(#g)"/>
<rect x="598" y="138.0" width="2" height="420" fill="url(#g)"/>
<rect x="600" y="138.0" width="2" height="420" fill="url(#g)"/>
<rect x="602" y="138.0" width="2" height="420" fill="url(#g)"/>
<rect x="604" y="138.0" width="2" height="420" fill="url(#g)"/>
<rect x="606" y="138.0" width="2" height="420" fill="url(#g)"/>
<rect x="608" y="138.0" width="2" height="420" fill="url(#g)"/>
<rect x="610" y="138.0" width="2" height="420" fill="url(#g)"/>
<rect x="612" y="138.0" width="2" height="420" fill="url(#g)"/>
<rect x="614" y="138.0" width="2" height="420" fill="url(#g)"/>
<rect x="616" y="138.0" width="2" height="420" fill="url(#g)"/>
<rect x="618" y="138.0" width="2" height="420" fill="url(#g)"/>
<rect x="620" y="138.0" width="2" height="420" fill="url(#g)"/>
<rect x="622" y="138.0" width="2" height="420" fill="url(#g)"/>
<rect x="624" y="138.0" width="2" height="420" fill="url(#g)"/>
<rect x="626" y="138.0" width="2" height="420" fill="url(#g)"/>
<rect x="628" y="138.0" width="2" height="420" fill="url(#g)"/>
<rect x="630" y="138.0" width="2" height="420" fill="url(#g)"/>
<rect x="632" y="138.0" width="2" height="420" fill="url(#g)"/>
<rect x="634" y="138.0" width="2" height="420" fill="url(#g)"/>
<rect x="636" y="138.0" width="2" height="420" fill="url(#g)"/>
</g>
<g clip-path="url(#cR2)" shape-rendering="crispEdges">
<rect x="384" y="82.2" width="2" height="420" fill="url(#g)"/>
<rect x="386" y="82.4" width="2" height="420" fill="url(#g)"/>
<rect x="388" y="82.6" width="2" height="420" fill="url(#g)"/>
<rect x="390" y="82.8" width="2" height="420" fill="url(#g)"/>
<rect x="392" y="82.9" width="2" height="420" fill="url(#g)"/>
<rect x="394" y="83.1" width="2" height="420" fill="url(#g)"/>
<rect x="396" y="83.3" width="2" height="420" fill="url(#g)"/>
<rect x="398" y="83.5" width="2" height="420" fill="url(#g)"/>
<rect x="400" y="83.7" width="2" height="420" fill="url(#g)"/>
<rect x="402" y="84.0" width="2" height="420" fill="url(#g)"/>
<rect x="404" y="84.2" width="2" height="420" fill="url(#g)"/>
<rect x="406" y="84.5" width="2" height="420" fill="url(#g)"/>
<rect x="408" y="84.8" width="2" height="420" fill="url(#g)"/>
<rect x="410" y="85.1" width="2" height="420" fill="url(#g)"/>
<rect x="412" y="85.3" width="2" height="420" fill="url(#g)"/>
<rect x="414" y="85.6" width="2" height="420" fill="url(#g)"/>
<rect x="416" y="85.9" width="2" height="420" fill="url(#g)"/>
<rect x="418" y="86.2" width="2" height="420" fill="url(#g)"/>
<rect x="420" y="86.4" width="2" height="420" fill="url(#g)"/>
<rect x="422" y="86.7" width="2" height="420" fill="url(#g)"/>
<rect x="424" y="86.9" width="2" height="420" fill="url(#g)"/>
<rect x="426" y="87.0" width="2" height="420" fill="url(#g)"/>
<rect x="428" y="87.2" width="2" height="420" fill="url(#g)"/>
<rect x="430" y="87.3" width="2" height="420" fill="url(#g)"/>
<rect x="432" y="87.5" width="2" height="420" fill="url(#g)"/>
<rect x="434" y="87.6" width="2" height="420" fill="url(#g)"/>
<rect x="436" y="87.8" width="2" height="420" fill="url(#g)"/>
<rect x="438" y="87.9" width="2" height="420" fill="url(#g)"/>
<rect x="440" y="87.4" width="2" height="420" fill="url(#g)"/>
<rect x="442" y="86.1" width="2" height="420" fill="url(#g)"/>
<rect x="444" y="84.9" width="2" height="420" fill="url(#g)"/>
<rect x="446" y="83.6" width="2" height="420" fill="url(#g)"/>
<rect x="448" y="82.9" width="2" height="420" fill="url(#g)"/>
<rect x="450" y="82.9" width="2" height="420" fill="url(#g)"/>
<rect x="452" y="82.9" width="2" height="420" fill="url(#g)"/>
<rect x="454" y="82.9" width="2" height="420" fill="url(#g)"/>
<rect x="456" y="82.9" width="2" height="420" fill="url(#g)"/>
<rect x="458" y="82.9" width="2" height="420" fill="url(#g)"/>
<rect x="460" y="83.0" width="2" height="420" fill="url(#g)"/>
<rect x="462" y="83.2" width="2" height="420" fill="url(#g)"/>
<rect x="464" y="83.5" width="2" height="420" fill="url(#g)"/>
<rect x="466" y="83.8" width="2" height="420" fill="url(#g)"/>
<rect x="468" y="84.1" width="2" height="420" fill="url(#g)"/>
<rect x="470" y="84.4" width="2" height="420" fill="url(#g)"/>
<rect x="472" y="84.6" width="2" height="420" fill="url(#g)"/>
<rect x="474" y="84.9" width="2" height="420" fill="url(#g)"/>
<rect x="476" y="84.8" width="2" height="420" fill="url(#g)"/>
<rect x="478" y="84.7" width="2" height="420" fill="url(#g)"/>
<rect x="480" y="84.6" width="2" height="420" fill="url(#g)"/>
<rect x="482" y="84.5" width="2" height="420" fill="url(#g)"/>
<rect x="484" y="84.3" width="2" height="420" fill="url(#g)"/>
<rect x="486" y="84.2" width="2" height="420" fill="url(#g)"/>
<rect x="488" y="84.1" width="2" height="420" fill="url(#g)"/>
<rect x="490" y="84.0" width="2" height="420" fill="url(#g)"/>
<rect x="492" y="83.9" width="2" height="420" fill="url(#g)"/>
<rect x="494" y="83.8" width="2" height="420" fill="url(#g)"/>
<rect x="496" y="83.7" width="2" height="420" fill="url(#g)"/>
<rect x="498" y="83.6" width="2" height="420" fill="url(#g)"/>
<rect x="500" y="83.5" width="2" height="420" fill="url(#g)"/>
<rect x="502" y="83.4" width="2" height="420" fill="url(#g)"/>
<rect x="504" y="83.3" width="2" height="420" fill="url(#g)"/>
<rect x="506" y="83.1" width="2" height="420" fill="url(#g)"/>
<rect x="508" y="83.0" width="2" height="420" fill="url(#g)"/>
<rect x="510" y="82.9" width="2" height="420" fill="url(#g)"/>
<rect x="512" y="83.0" width="2" height="420" fill="url(#g)"/>
<rect x="514" y="83.1" width="2" height="420" fill="url(#g)"/>
<rect x="516" y="83.2" width="2" height="420" fill="url(#g)"/>
<rect x="518" y="83.4" width="2" height="420" fill="url(#g)"/>
<rect x="520" y="83.5" width="2" height="420" fill="url(#g)"/>
<rect x="522" y="83.6" width="2" height="420" fill="url(#g)"/>
<rect x="524" y="83.7" width="2" height="420" fill="url(#g)"/>
<rect x="526" y="83.8" width="2" height="420" fill="url(#g)"/>
<rect x="528" y="84.0" width="2" height="420" fill="url(#g)"/>
<rect x="530" y="84.2" width="2" height="420" fill="url(#g)"/>
<rect x="532" y="84.4" width="2" height="420" fill="url(#g)"/>
<rect x="534" y="84.7" width="2" height="420" fill="url(#g)"/>
<rect x="536" y="84.9" width="2" height="420" fill="url(#g)"/>
<rect x="538" y="85.1" width="2" height="420" fill="url(#g)"/>
<rect x="540" y="85.3" width="2" height="420" fill="url(#g)"/>
<rect x="542" y="85.5" width="2" height="420" fill="url(#g)"/>
<rect x="544" y="85.7" width="2" height="420" fill="url(#g)"/>
<rect x="546" y="86.0" width="2" height="420" fill="url(#g)"/>
<rect x="548" y="86.5" width="2" height="420" fill="url(#g)"/>
<rect x="550" y="86.9" width="2" height="420" fill="url(#g)"/>
<rect x="552" y="87.3" width="2" height="420" fill="url(#g)"/>
<rect x="554" y="87.8" width="2" height="420" fill="url(#g)"/>
<rect x="556" y="88.2" width="2" height="420" fill="url(#g)"/>
<rect x="558" y="88.6" width="2" height="420" fill="url(#g)"/>
<rect x="560" y="89.1" width="2" height="420" fill="url(#g)"/>
<rect x="562" y="89.9" width="2" height="420" fill="url(#g)"/>
<rect x="564" y="90.7" width="2" height="420" fill="url(#g)"/>
<rect x="566" y="91.5" width="2" height="420" fill="url(#g)"/>
<rect x="568" y="92.0" width="2" height="420" fill="url(#g)"/>
</g>
<g clip-path="url(#cR1)" shape-rendering="crispEdges">
<rect x="331" y="70.4" width="2" height="420" fill="url(#g)"/>
<rect x="333" y="70.9" width="2" height="420" fill="url(#g)"/>
<rect x="335" y="71.5" width="2" height="420" fill="url(#g)"/>
<rect x="337" y="72.1" width="2" height="420" fill="url(#g)"/>
<rect x="339" y="72.6" width="2" height="420" fill="url(#g)"/>
<rect x="341" y="73.2" width="2" height="420" fill="url(#g)"/>
<rect x="343" y="73.8" width="2" height="420" fill="url(#g)"/>
<rect x="345" y="74.3" width="2" height="420" fill="url(#g)"/>
<rect x="347" y="74.8" width="2" height="420" fill="url(#g)"/>
<rect x="349" y="75.2" width="2" height="420" fill="url(#g)"/>
<rect x="351" y="75.7" width="2" height="420" fill="url(#g)"/>
<rect x="353" y="76.2" width="2" height="420" fill="url(#g)"/>
<rect x="355" y="76.7" width="2" height="420" fill="url(#g)"/>
<rect x="357" y="77.1" width="2" height="420" fill="url(#g)"/>
<rect x="359" y="77.6" width="2" height="420" fill="url(#g)"/>
<rect x="361" y="78.1" width="2" height="420" fill="url(#g)"/>
<rect x="363" y="78.5" width="2" height="420" fill="url(#g)"/>
<rect x="365" y="79.0" width="2" height="420" fill="url(#g)"/>
<rect x="367" y="79.2" width="2" height="420" fill="url(#g)"/>
<rect x="369" y="79.1" width="2" height="420" fill="url(#g)"/>
<rect x="371" y="78.9" width="2" height="420" fill="url(#g)"/>
<rect x="373" y="78.7" width="2" height="420" fill="url(#g)"/>
<rect x="375" y="78.6" width="2" height="420" fill="url(#g)"/>
<rect x="377" y="78.4" width="2" height="420" fill="url(#g)"/>
<rect x="379" y="78.2" width="2" height="420" fill="url(#g)"/>
<rect x="381" y="78.1" width="2" height="420" fill="url(#g)"/>
<rect x="383" y="77.9" width="2" height="420" fill="url(#g)"/>
<rect x="385" y="77.8" width="2" height="420" fill="url(#g)"/>
</g>
<g clip-path="url(#cF1)" shape-rendering="crispEdges">
<rect x="567" y="148.7" width="2" height="420" fill="url(#g)"/>
<rect x="569" y="149.5" width="2" height="420" fill="url(#g)"/>
<rect x="571" y="150.5" width="2" height="420" fill="url(#g)"/>
<rect x="573" y="151.4" width="2" height="420" fill="url(#g)"/>
<rect x="575" y="152.2" width="2" height="420" fill="url(#g)"/>
<rect x="577" y="152.9" width="2" height="420" fill="url(#g)"/>
<rect x="579" y="153.6" width="2" height="420" fill="url(#g)"/>
<rect x="581" y="154.3" width="2" height="420" fill="url(#g)"/>
<rect x="583" y="155.0" width="2" height="420" fill="url(#g)"/>
<rect x="585" y="155.7" width="2" height="420" fill="url(#g)"/>
<rect x="587" y="156.4" width="2" height="420" fill="url(#g)"/>
<rect x="589" y="157.0" width="2" height="420" fill="url(#g)"/>
<rect x="591" y="157.6" width="2" height="420" fill="url(#g)"/>
<rect x="593" y="158.2" width="2" height="420" fill="url(#g)"/>
<rect x="595" y="158.8" width="2" height="420" fill="url(#g)"/>
<rect x="597" y="159.4" width="2" height="420" fill="url(#g)"/>
<rect x="599" y="160.0" width="2" height="420" fill="url(#g)"/>
<rect x="601" y="160.6" width="2" height="420" fill="url(#g)"/>
<rect x="603" y="161.1" width="2" height="420" fill="url(#g)"/>
<rect x="605" y="161.5" width="2" height="420" fill="url(#g)"/>
<rect x="607" y="161.9" width="2" height="420" fill="url(#g)"/>
<rect x="609" y="162.3" width="2" height="420" fill="url(#g)"/>
<rect x="611" y="162.7" width="2" height="420" fill="url(#g)"/>
<rect x="613" y="163.1" width="2" height="420" fill="url(#g)"/>
<rect x="615" y="163.5" width="2" height="420" fill="url(#g)"/>
<rect x="617" y="163.9" width="2" height="420" fill="url(#g)"/>
<rect x="619" y="164.3" width="2" height="420" fill="url(#g)"/>
<rect x="621" y="164.7" width="2" height="420" fill="url(#g)"/>
<rect x="623" y="165.1" width="2" height="420" fill="url(#g)"/>
<rect x="625" y="165.3" width="2" height="420" fill="url(#g)"/>
<rect x="627" y="165.5" width="2" height="420" fill="url(#g)"/>
<rect x="629" y="165.7" width="2" height="420" fill="url(#g)"/>
<rect x="631" y="165.9" width="2" height="420" fill="url(#g)"/>
<rect x="633" y="166.1" width="2" height="420" fill="url(#g)"/>
<rect x="635" y="166.3" width="2" height="420" fill="url(#g)"/>
<rect x="637" y="166.5" width="2" height="420" fill="url(#g)"/>
<rect x="639" y="166.6" width="2" height="420" fill="url(#g)"/>
<rect x="641" y="166.6" width="2" height="420" fill="url(#g)"/>
<rect x="643" y="166.7" width="2" height="420" fill="url(#g)"/>
<rect x="645" y="166.7" width="2" height="420" fill="url(#g)"/>
<rect x="647" y="166.7" width="2" height="420" fill="url(#g)"/>
<rect x="649" y="166.7" width="2" height="420" fill="url(#g)"/>
<rect x="651" y="166.8" width="2" height="420" fill="url(#g)"/>
<rect x="653" y="166.8" width="2" height="420" fill="url(#g)"/>
<rect x="655" y="166.8" width="2" height="420" fill="url(#g)"/>
<rect x="657" y="166.8" width="2" height="420" fill="url(#g)"/>
<rect x="659" y="166.8" width="2" height="420" fill="url(#g)"/>
<rect x="661" y="166.9" width="2" height="420" fill="url(#g)"/>
<rect x="663" y="166.9" width="2" height="420" fill="url(#g)"/>
<rect x="665" y="166.9" width="2" height="420" fill="url(#g)"/>
<rect x="667" y="166.9" width="2" height="420" fill="url(#g)"/>
<rect x="669" y="167.0" width="2" height="420" fill="url(#g)"/>
<rect x="671" y="167.0" width="2" height="420" fill="url(#g)"/>
<rect x="673" y="167.0" width="2" height="420" fill="url(#g)"/>
<rect x="675" y="167.0" width="2" height="420" fill="url(#g)"/>
<rect x="677" y="167.1" width="2" height="420" fill="url(#g)"/>
<rect x="679" y="167.1" width="2" height="420" fill="url(#g)"/>
<rect x="681" y="167.1" width="2" height="420" fill="url(#g)"/>
<rect x="683" y="167.5" width="2" height="420" fill="url(#g)"/>
<rect x="685" y="167.9" width="2" height="420" fill="url(#g)"/>
<rect x="687" y="168.3" width="2" height="420" fill="url(#g)"/>
<rect x="689" y="168.8" width="2" height="420" fill="url(#g)"/>
<rect x="691" y="169.2" width="2" height="420" fill="url(#g)"/>
<rect x="693" y="169.6" width="2" height="420" fill="url(#g)"/>
<rect x="695" y="170.1" width="2" height="420" fill="url(#g)"/>
<rect x="697" y="170.5" width="2" height="420" fill="url(#g)"/>
<rect x="699" y="170.9" width="2" height="420" fill="url(#g)"/>
<rect x="701" y="171.3" width="2" height="420" fill="url(#g)"/>
<rect x="703" y="171.8" width="2" height="420" fill="url(#g)"/>
<rect x="705" y="172.1" width="2" height="420" fill="url(#g)"/>
<rect x="707" y="172.4" width="2" height="420" fill="url(#g)"/>
<rect x="709" y="172.8" width="2" height="420" fill="url(#g)"/>
<rect x="711" y="173.1" width="2" height="420" fill="url(#g)"/>
<rect x="713" y="173.5" width="2" height="420" fill="url(#g)"/>
<rect x="715" y="173.8" width="2" height="420" fill="url(#g)"/>
<rect x="717" y="174.2" width="2" height="420" fill="url(#g)"/>
<rect x="719" y="174.5" width="2" height="420" fill="url(#g)"/>
<rect x="721" y="174.9" width="2" height="420" fill="url(#g)"/>
<rect x="723" y="175.2" width="2" height="420" fill="url(#g)"/>
<rect x="725" y="175.6" width="2" height="420" fill="url(#g)"/>
<rect x="727" y="175.9" width="2" height="420" fill="url(#g)"/>
<rect x="729" y="176.3" width="2" height="420" fill="url(#g)"/>
<rect x="731" y="176.6" width="2" height="420" fill="url(#g)"/>
<rect x="733" y="177.3" width="2" height="420" fill="url(#g)"/>
<rect x="735" y="178.1" width="2" height="420" fill="url(#g)"/>
<rect x="737" y="178.9" width="2" height="420" fill="url(#g)"/>
<rect x="739" y="179.6" width="2" height="420" fill="url(#g)"/>
<rect x="741" y="180.4" width="2" height="420" fill="url(#g)"/>
<rect x="743" y="181.2" width="2" height="420" fill="url(#g)"/>
<rect x="745" y="182.0" width="2" height="420" fill="url(#g)"/>
<rect x="747" y="182.8" width="2" height="420" fill="url(#g)"/>
<rect x="749" y="183.6" width="2" height="420" fill="url(#g)"/>
<rect x="751" y="184.4" width="2" height="420" fill="url(#g)"/>
<rect x="753" y="185.1" width="2" height="420" fill="url(#g)"/>
<rect x="755" y="185.8" width="2" height="420" fill="url(#g)"/>
<rect x="757" y="186.6" width="2" height="420" fill="url(#g)"/>
<rect x="759" y="187.3" width="2" height="420" fill="url(#g)"/>
<rect x="761" y="188.1" width="2" height="420" fill="url(#g)"/>
<rect x="763" y="188.8" width="2" height="420" fill="url(#g)"/>
<rect x="765" y="189.5" width="2" height="420" fill="url(#g)"/>
<rect x="767" y="190.3" width="2" height="420" fill="url(#g)"/>
<rect x="769" y="191.0" width="2" height="420" fill="url(#g)"/>
<rect x="771" y="191.7" width="2" height="420" fill="url(#g)"/>
<rect x="773" y="192.5" width="2" height="420" fill="url(#g)"/>
<rect x="775" y="193.2" width="2" height="420" fill="url(#g)"/>
<rect x="777" y="194.0" width="2" height="420" fill="url(#g)"/>
<rect x="779" y="194.7" width="2" height="420" fill="url(#g)"/>
<rect x="781" y="195.5" width="2" height="420" fill="url(#g)"/>
<rect x="783" y="196.2" width="2" height="420" fill="url(#g)"/>
<rect x="785" y="197.1" width="2" height="420" fill="url(#g)"/>
<rect x="787" y="198.7" width="2" height="420" fill="url(#g)"/>
<rect x="789" y="200.2" width="2" height="420" fill="url(#g)"/>
<rect x="791" y="200.4" width="2" height="420" fill="url(#g)"/>
<rect x="793" y="200.6" width="2" height="420" fill="url(#g)"/>
<rect x="795" y="200.8" width="2" height="420" fill="url(#g)"/>
<rect x="797" y="201.0" width="2" height="420" fill="url(#g)"/>
<rect x="799" y="201.1" width="2" height="420" fill="url(#g)"/>
<rect x="801" y="201.2" width="2" height="420" fill="url(#g)"/>
<rect x="803" y="201.4" width="2" height="420" fill="url(#g)"/>
<rect x="805" y="201.5" width="2" height="420" fill="url(#g)"/>
<rect x="807" y="201.6" width="2" height="420" fill="url(#g)"/>
<rect x="809" y="201.7" width="2" height="420" fill="url(#g)"/>
<rect x="811" y="201.8" width="2" height="420" fill="url(#g)"/>
<rect x="813" y="201.9" width="2" height="420" fill="url(#g)"/>
<rect x="815" y="202.1" width="2" height="420" fill="url(#g)"/>
<rect x="817" y="202.4" width="2" height="420" fill="url(#g)"/>
<rect x="819" y="202.8" width="2" height="420" fill="url(#g)"/>
<rect x="821" y="203.2" width="2" height="420" fill="url(#g)"/>
<rect x="823" y="203.6" width="2" height="420" fill="url(#g)"/>
<rect x="825" y="204.0" width="2" height="420" fill="url(#g)"/>
<rect x="827" y="204.4" width="2" height="420" fill="url(#g)"/>
<rect x="829" y="204.4" width="2" height="420" fill="url(#g)"/>
<rect x="831" y="204.3" width="2" height="420" fill="url(#g)"/>
<rect x="833" y="204.3" width="2" height="420" fill="url(#g)"/>
<rect x="835" y="204.2" width="2" height="420" fill="url(#g)"/>
<rect x="837" y="204.1" width="2" height="420" fill="url(#g)"/>
<rect x="839" y="204.0" width="2" height="420" fill="url(#g)"/>
<rect x="841" y="204.3" width="2" height="420" fill="url(#g)"/>
<rect x="843" y="204.5" width="2" height="420" fill="url(#g)"/>
<rect x="845" y="204.7" width="2" height="420" fill="url(#g)"/>
<rect x="847" y="204.9" width="2" height="420" fill="url(#g)"/>
<rect x="849" y="205.2" width="2" height="420" fill="url(#g)"/>
<rect x="851" y="205.4" width="2" height="420" fill="url(#g)"/>
<rect x="853" y="205.6" width="2" height="420" fill="url(#g)"/>
<rect x="855" y="205.8" width="2" height="420" fill="url(#g)"/>
<rect x="857" y="206.1" width="2" height="420" fill="url(#g)"/>
<rect x="859" y="206.3" width="2" height="420" fill="url(#g)"/>
<rect x="861" y="206.4" width="2" height="420" fill="url(#g)"/>
<rect x="863" y="206.3" width="2" height="420" fill="url(#g)"/>
<rect x="865" y="206.2" width="2" height="420" fill="url(#g)"/>
<rect x="867" y="206.1" width="2" height="420" fill="url(#g)"/>
<rect x="869" y="206.0" width="2" height="420" fill="url(#g)"/>
<rect x="871" y="206.0" width="2" height="420" fill="url(#g)"/>
<rect x="873" y="205.9" width="2" height="420" fill="url(#g)"/>
<rect x="875" y="205.8" width="2" height="420" fill="url(#g)"/>
<rect x="877" y="205.7" width="2" height="420" fill="url(#g)"/>
<rect x="879" y="205.6" width="2" height="420" fill="url(#g)"/>
<rect x="881" y="205.6" width="2" height="420" fill="url(#g)"/>
<rect x="883" y="205.5" width="2" height="420" fill="url(#g)"/>
<rect x="885" y="205.4" width="2" height="420" fill="url(#g)"/>
<rect x="887" y="205.0" width="2" height="420" fill="url(#g)"/>
<rect x="889" y="204.6" width="2" height="420" fill="url(#g)"/>
<rect x="891" y="204.3" width="2" height="420" fill="url(#g)"/>
<rect x="893" y="204.2" width="2" height="420" fill="url(#g)"/>
<rect x="895" y="205.1" width="2" height="420" fill="url(#g)"/>
<rect x="897" y="205.9" width="2" height="420" fill="url(#g)"/>
<rect x="899" y="206.8" width="2" height="420" fill="url(#g)"/>
<rect x="901" y="207.2" width="2" height="420" fill="url(#g)"/>
<rect x="903" y="207.5" width="2" height="420" fill="url(#g)"/>
<rect x="905" y="207.9" width="2" height="420" fill="url(#g)"/>
<rect x="907" y="208.2" width="2" height="420" fill="url(#g)"/>
<rect x="909" y="208.5" width="2" height="420" fill="url(#g)"/>
<rect x="911" y="208.9" width="2" height="420" fill="url(#g)"/>
<rect x="913" y="209.2" width="2" height="420" fill="url(#g)"/>
<rect x="915" y="209.6" width="2" height="420" fill="url(#g)"/>
<rect x="917" y="210.1" width="2" height="420" fill="url(#g)"/>
<rect x="919" y="210.5" width="2" height="420" fill="url(#g)"/>
<rect x="921" y="211.0" width="2" height="420" fill="url(#g)"/>
<rect x="923" y="211.5" width="2" height="420" fill="url(#g)"/>
<rect x="925" y="211.9" width="2" height="420" fill="url(#g)"/>
<rect x="927" y="212.4" width="2" height="420" fill="url(#g)"/>
<rect x="929" y="212.7" width="2" height="420" fill="url(#g)"/>
<rect x="931" y="213.0" width="2" height="420" fill="url(#g)"/>
<rect x="933" y="213.2" width="2" height="420" fill="url(#g)"/>
<rect x="935" y="213.4" width="2" height="420" fill="url(#g)"/>
<rect x="937" y="213.7" width="2" height="420" fill="url(#g)"/>
<rect x="939" y="213.9" width="2" height="420" fill="url(#g)"/>
<rect x="941" y="214.0" width="2" height="420" fill="url(#g)"/>
<rect x="943" y="214.1" width="2" height="420" fill="url(#g)"/>
<rect x="945" y="214.2" width="2" height="420" fill="url(#g)"/>
<rect x="947" y="214.3" width="2" height="420" fill="url(#g)"/>
<rect x="949" y="214.3" width="2" height="420" fill="url(#g)"/>
<rect x="951" y="214.4" width="2" height="420" fill="url(#g)"/>
<rect x="953" y="214.5" width="2" height="420" fill="url(#g)"/>
<rect x="955" y="214.5" width="2" height="420" fill="url(#g)"/>
<rect x="957" y="214.0" width="2" height="420" fill="url(#g)"/>
<rect x="959" y="213.5" width="2" height="420" fill="url(#g)"/>
<rect x="961" y="213.0" width="2" height="420" fill="url(#g)"/>
<rect x="963" y="212.7" width="2" height="420" fill="url(#g)"/>
<rect x="965" y="214.1" width="2" height="420" fill="url(#g)"/>
<rect x="967" y="215.5" width="2" height="420" fill="url(#g)"/>
<rect x="969" y="216.2" width="2" height="420" fill="url(#g)"/>
<rect x="971" y="216.4" width="2" height="420" fill="url(#g)"/>
<rect x="973" y="216.7" width="2" height="420" fill="url(#g)"/>
<rect x="975" y="217.0" width="2" height="420" fill="url(#g)"/>
<rect x="977" y="217.2" width="2" height="420" fill="url(#g)"/>
<rect x="979" y="217.5" width="2" height="420" fill="url(#g)"/>
<rect x="981" y="217.8" width="2" height="420" fill="url(#g)"/>
<rect x="983" y="218.1" width="2" height="420" fill="url(#g)"/>
<rect x="985" y="218.3" width="2" height="420" fill="url(#g)"/>
<rect x="987" y="218.6" width="2" height="420" fill="url(#g)"/>
<rect x="989" y="218.9" width="2" height="420" fill="url(#g)"/>
<rect x="991" y="219.1" width="2" height="420" fill="url(#g)"/>
<rect x="993" y="219.3" width="2" height="420" fill="url(#g)"/>
<rect x="995" y="219.5" width="2" height="420" fill="url(#g)"/>
<rect x="997" y="219.7" width="2" height="420" fill="url(#g)"/>
<rect x="999" y="219.9" width="2" height="420" fill="url(#g)"/>
<rect x="1001" y="220.1" width="2" height="420" fill="url(#g)"/>
<rect x="1003" y="220.3" width="2" height="420" fill="url(#g)"/>
<rect x="1005" y="220.5" width="2" height="420" fill="url(#g)"/>
<rect x="1007" y="220.7" width="2" height="420" fill="url(#g)"/>
<rect x="1009" y="220.9" width="2" height="420" fill="url(#g)"/>
<rect x="1011" y="221.2" width="2" height="420" fill="url(#g)"/>
<rect x="1013" y="221.8" width="2" height="420" fill="url(#g)"/>
<rect x="1015" y="222.4" width="2" height="420" fill="url(#g)"/>
<rect x="1017" y="223.0" width="2" height="420" fill="url(#g)"/>
<rect x="1019" y="223.6" width="2" height="420" fill="url(#g)"/>
<rect x="1021" y="224.2" width="2" height="420" fill="url(#g)"/>
<rect x="1023" y="224.9" width="2" height="420" fill="url(#g)"/>
<rect x="1025" y="225.6" width="2" height="420" fill="url(#g)"/>
<rect x="1027" y="226.3" width="2" height="420" fill="url(#g)"/>
<rect x="1029" y="227.0" width="2" height="420" fill="url(#g)"/>
<rect x="1031" y="227.7" width="2" height="420" fill="url(#g)"/>
<rect x="1033" y="228.4" width="2" height="420" fill="url(#g)"/>
<rect x="1035" y="228.7" width="2" height="420" fill="url(#g)"/>
<rect x="1037" y="229.1" width="2" height="420" fill="url(#g)"/>
<rect x="1039" y="229.4" width="2" height="420" fill="url(#g)"/>
<rect x="1041" y="229.7" width="2" height="420" fill="url(#g)"/>
<rect x="1043" y="230.1" width="2" height="420" fill="url(#g)"/>
<rect x="1045" y="230.4" width="2" height="420" fill="url(#g)"/>
<rect x="1047" y="230.8" width="2" height="420" fill="url(#g)"/>
<rect x="1049" y="231.1" width="2" height="420" fill="url(#g)"/>
<rect x="1051" y="231.5" width="2" height="420" fill="url(#g)"/>
<rect x="1053" y="231.9" width="2" height="420" fill="url(#g)"/>
<rect x="1055" y="232.3" width="2" height="420" fill="url(#g)"/>
<rect x="1057" y="232.7" width="2" height="420" fill="url(#g)"/>
<rect x="1059" y="233.1" width="2" height="420" fill="url(#g)"/>
<rect x="1061" y="233.4" width="2" height="420" fill="url(#g)"/>
<rect x="1063" y="233.8" width="2" height="420" fill="url(#g)"/>
<rect x="1065" y="234.5" width="2" height="420" fill="url(#g)"/>
<rect x="1067" y="235.7" width="2" height="420" fill="url(#g)"/>
<rect x="1069" y="236.9" width="2" height="420" fill="url(#g)"/>
<rect x="1071" y="238.5" width="2" height="420" fill="url(#g)"/>
<rect x="1073" y="240.5" width="2" height="420" fill="url(#g)"/>
<rect x="1075" y="242.5" width="2" height="420" fill="url(#g)"/>
<rect x="1077" y="243.2" width="2" height="420" fill="url(#g)"/>
<rect x="1079" y="243.2" width="2" height="420" fill="url(#g)"/>
</g>
<g clip-path="url(#cF2)" shape-rendering="crispEdges">
<rect x="1074" y="243.4" width="2" height="420" fill="url(#g)"/>
<rect x="1076" y="243.3" width="2" height="420" fill="url(#g)"/>
<rect x="1078" y="243.1" width="2" height="420" fill="url(#g)"/>
<rect x="1080" y="242.8" width="2" height="420" fill="url(#g)"/>
<rect x="1082" y="242.6" width="2" height="420" fill="url(#g)"/>
<rect x="1084" y="242.3" width="2" height="420" fill="url(#g)"/>
<rect x="1086" y="242.0" width="2" height="420" fill="url(#g)"/>
<rect x="1088" y="241.7" width="2" height="420" fill="url(#g)"/>
<rect x="1090" y="241.4" width="2" height="420" fill="url(#g)"/>
<rect x="1092" y="241.1" width="2" height="420" fill="url(#g)"/>
<rect x="1094" y="240.8" width="2" height="420" fill="url(#g)"/>
<rect x="1096" y="240.4" width="2" height="420" fill="url(#g)"/>
<rect x="1098" y="240.1" width="2" height="420" fill="url(#g)"/>
<rect x="1100" y="239.8" width="2" height="420" fill="url(#g)"/>
<rect x="1102" y="239.6" width="2" height="420" fill="url(#g)"/>
<rect x="1104" y="239.5" width="2" height="420" fill="url(#g)"/>
<rect x="1106" y="239.3" width="2" height="420" fill="url(#g)"/>
<rect x="1108" y="239.1" width="2" height="420" fill="url(#g)"/>
<rect x="1110" y="238.9" width="2" height="420" fill="url(#g)"/>
<rect x="1112" y="238.8" width="2" height="420" fill="url(#g)"/>
<rect x="1114" y="238.8" width="2" height="420" fill="url(#g)"/>
<rect x="1116" y="238.7" width="2" height="420" fill="url(#g)"/>
<rect x="1118" y="238.7" width="2" height="420" fill="url(#g)"/>
<rect x="1120" y="238.7" width="2" height="420" fill="url(#g)"/>
<rect x="1122" y="238.6" width="2" height="420" fill="url(#g)"/>
<rect x="1124" y="238.6" width="2" height="420" fill="url(#g)"/>
<rect x="1126" y="238.5" width="2" height="420" fill="url(#g)"/>
<rect x="1128" y="238.5" width="2" height="420" fill="url(#g)"/>
<rect x="1130" y="238.5" width="2" height="420" fill="url(#g)"/>
<rect x="1132" y="238.4" width="2" height="420" fill="url(#g)"/>
<rect x="1134" y="238.4" width="2" height="420" fill="url(#g)"/>
<rect x="1136" y="238.4" width="2" height="420" fill="url(#g)"/>
<rect x="1138" y="238.3" width="2" height="420" fill="url(#g)"/>
<rect x="1140" y="238.3" width="2" height="420" fill="url(#g)"/>
<rect x="1142" y="238.3" width="2" height="420" fill="url(#g)"/>
<rect x="1144" y="238.4" width="2" height="420" fill="url(#g)"/>
<rect x="1146" y="238.4" width="2" height="420" fill="url(#g)"/>
<rect x="1148" y="238.5" width="2" height="420" fill="url(#g)"/>
<rect x="1150" y="238.5" width="2" height="420" fill="url(#g)"/>
<rect x="1152" y="238.5" width="2" height="420" fill="url(#g)"/>
<rect x="1154" y="238.6" width="2" height="420" fill="url(#g)"/>
<rect x="1156" y="238.6" width="2" height="420" fill="url(#g)"/>
<rect x="1158" y="238.7" width="2" height="420" fill="url(#g)"/>
<rect x="1160" y="238.7" width="2" height="420" fill="url(#g)"/>
<rect x="1162" y="238.8" width="2" height="420" fill="url(#g)"/>
<rect x="1164" y="238.8" width="2" height="420" fill="url(#g)"/>
<rect x="1166" y="238.8" width="2" height="420" fill="url(#g)"/>
<rect x="1168" y="238.9" width="2" height="420" fill="url(#g)"/>
<rect x="1170" y="238.9" width="2" height="420" fill="url(#g)"/>
<rect x="1172" y="239.0" width="2" height="420" fill="url(#g)"/>
<rect x="1174" y="239.0" width="2" height="420" fill="url(#g)"/>
<rect x="1176" y="239.0" width="2" height="420" fill="url(#g)"/>
</g>
<g clip-path="url(#cF3)" shape-rendering="crispEdges">
<rect x="1167" y="223.4" width="2" height="420" fill="url(#g)"/>
<rect x="1169" y="223.4" width="2" height="420" fill="url(#g)"/>
<rect x="1171" y="223.4" width="2" height="420" fill="url(#g)"/>
<rect x="1173" y="223.4" width="2" height="420" fill="url(#g)"/>
<rect x="1175" y="223.5" width="2" height="420" fill="url(#g)"/>
<rect x="1177" y="223.7" width="2" height="420" fill="url(#g)"/>
<rect x="1179" y="223.9" width="2" height="420" fill="url(#g)"/>
<rect x="1181" y="224.2" width="2" height="420" fill="url(#g)"/>
<rect x="1183" y="224.4" width="2" height="420" fill="url(#g)"/>
<rect x="1185" y="224.6" width="2" height="420" fill="url(#g)"/>
<rect x="1187" y="224.8" width="2" height="420" fill="url(#g)"/>
<rect x="1189" y="225.0" width="2" height="420" fill="url(#g)"/>
<rect x="1191" y="225.2" width="2" height="420" fill="url(#g)"/>
<rect x="1193" y="225.4" width="2" height="420" fill="url(#g)"/>
<rect x="1195" y="225.6" width="2" height="420" fill="url(#g)"/>
<rect x="1197" y="225.7" width="2" height="420" fill="url(#g)"/>
<rect x="1199" y="225.9" width="2" height="420" fill="url(#g)"/>
<rect x="1201" y="226.0" width="2" height="420" fill="url(#g)"/>
<rect x="1203" y="226.2" width="2" height="420" fill="url(#g)"/>
<rect x="1205" y="226.4" width="2" height="420" fill="url(#g)"/>
<rect x="1207" y="226.5" width="2" height="420" fill="url(#g)"/>
<rect x="1209" y="226.7" width="2" height="420" fill="url(#g)"/>
<rect x="1211" y="226.9" width="2" height="420" fill="url(#g)"/>
<rect x="1213" y="227.0" width="2" height="420" fill="url(#g)"/>
<rect x="1215" y="227.2" width="2" height="420" fill="url(#g)"/>
<rect x="1217" y="227.3" width="2" height="420" fill="url(#g)"/>
<rect x="1219" y="227.5" width="2" height="420" fill="url(#g)"/>
<rect x="1221" y="224.5" width="2" height="420" fill="url(#g)"/>
<rect x="1223" y="221.5" width="2" height="420" fill="url(#g)"/>
<rect x="1225" y="220.7" width="2" height="420" fill="url(#g)"/>
<rect x="1227" y="220.0" width="2" height="420" fill="url(#g)"/>
<rect x="1229" y="219.4" width="2" height="420" fill="url(#g)"/>
<rect x="1231" y="218.7" width="2" height="420" fill="url(#g)"/>
<rect x="1233" y="218.4" width="2" height="420" fill="url(#g)"/>
<rect x="1235" y="218.1" width="2" height="420" fill="url(#g)"/>
<rect x="1237" y="217.8" width="2" height="420" fill="url(#g)"/>
<rect x="1239" y="217.5" width="2" height="420" fill="url(#g)"/>
<rect x="1241" y="217.2" width="2" height="420" fill="url(#g)"/>
<rect x="1243" y="216.2" width="2" height="420" fill="url(#g)"/>
<rect x="1245" y="215.2" width="2" height="420" fill="url(#g)"/>
<rect x="1247" y="215.6" width="2" height="420" fill="url(#g)"/>
<rect x="1249" y="216.0" width="2" height="420" fill="url(#g)"/>
<rect x="1251" y="216.5" width="2" height="420" fill="url(#g)"/>
<rect x="1253" y="217.1" width="2" height="420" fill="url(#g)"/>
<rect x="1255" y="218.0" width="2" height="420" fill="url(#g)"/>
<rect x="1257" y="218.8" width="2" height="420" fill="url(#g)"/>
<rect x="1259" y="219.6" width="2" height="420" fill="url(#g)"/>
<rect x="1261" y="220.1" width="2" height="420" fill="url(#g)"/>
<rect x="1263" y="220.3" width="2" height="420" fill="url(#g)"/>
<rect x="1265" y="220.4" width="2" height="420" fill="url(#g)"/>
<rect x="1267" y="220.6" width="2" height="420" fill="url(#g)"/>
<rect x="1269" y="220.7" width="2" height="420" fill="url(#g)"/>
<rect x="1271" y="220.7" width="2" height="420" fill="url(#g)"/>
<rect x="1273" y="220.7" width="2" height="420" fill="url(#g)"/>
<rect x="1275" y="220.7" width="2" height="420" fill="url(#g)"/>
<rect x="1277" y="220.8" width="2" height="420" fill="url(#g)"/>
<rect x="1279" y="221.0" width="2" height="420" fill="url(#g)"/>
<rect x="1281" y="221.1" width="2" height="420" fill="url(#g)"/>
<rect x="1283" y="221.2" width="2" height="420" fill="url(#g)"/>
<rect x="1285" y="221.2" width="2" height="420" fill="url(#g)"/>
<rect x="1287" y="220.8" width="2" height="420" fill="url(#g)"/>
<rect x="1289" y="220.5" width="2" height="420" fill="url(#g)"/>
<rect x="1291" y="220.1" width="2" height="420" fill="url(#g)"/>
<rect x="1293" y="219.7" width="2" height="420" fill="url(#g)"/>
<rect x="1295" y="219.4" width="2" height="420" fill="url(#g)"/>
<rect x="1297" y="219.2" width="2" height="420" fill="url(#g)"/>
<rect x="1299" y="219.1" width="2" height="420" fill="url(#g)"/>
<rect x="1301" y="219.0" width="2" height="420" fill="url(#g)"/>
<rect x="1303" y="218.9" width="2" height="420" fill="url(#g)"/>
<rect x="1305" y="218.8" width="2" height="420" fill="url(#g)"/>
<rect x="1307" y="218.7" width="2" height="420" fill="url(#g)"/>
<rect x="1309" y="218.6" width="2" height="420" fill="url(#g)"/>
<rect x="1311" y="218.7" width="2" height="420" fill="url(#g)"/>
<rect x="1313" y="218.8" width="2" height="420" fill="url(#g)"/>
<rect x="1315" y="218.9" width="2" height="420" fill="url(#g)"/>
<rect x="1317" y="219.0" width="2" height="420" fill="url(#g)"/>
<rect x="1319" y="219.1" width="2" height="420" fill="url(#g)"/>
<rect x="1321" y="219.2" width="2" height="420" fill="url(#g)"/>
<rect x="1323" y="219.3" width="2" height="420" fill="url(#g)"/>
<rect x="1325" y="219.4" width="2" height="420" fill="url(#g)"/>
<rect x="1327" y="219.5" width="2" height="420" fill="url(#g)"/>
<rect x="1329" y="219.6" width="2" height="420" fill="url(#g)"/>
<rect x="1331" y="219.7" width="2" height="420" fill="url(#g)"/>
<rect x="1333" y="219.8" width="2" height="420" fill="url(#g)"/>
<rect x="1335" y="219.9" width="2" height="420" fill="url(#g)"/>
<rect x="1337" y="220.0" width="2" height="420" fill="url(#g)"/>
<rect x="1339" y="220.0" width="2" height="420" fill="url(#g)"/>
<rect x="1341" y="220.0" width="2" height="420" fill="url(#g)"/>
<rect x="1343" y="220.0" width="2" height="420" fill="url(#g)"/>
<rect x="1345" y="220.0" width="2" height="420" fill="url(#g)"/>
<rect x="1347" y="220.0" width="2" height="420" fill="url(#g)"/>
</g>
<polygon points="333.2,442.0 333.6,430.0 334.5,421.5 335.5,421.5 337.5,427.0 339.8,432.5 339.8,436.5 336.5,436.5 336.0,442.5" fill="#000a78" shape-rendering="crispEdges"/>
<rect x="336.3" y="436.3" width="3.4" height="5.5" fill="#3f9c6c"/>
<polyline points="332.8,441.5 340.0,445.0 346.6,448.5 350.0,448.2 363.6,447.2 365.3,449.5 371.1,448.9 377.3,445.5 385.0,443.1" fill="none" stroke="#000a78" stroke-width="3.2" stroke-linejoin="round" shape-rendering="crispEdges"/>
<polyline points="385.1,428.4 390.0,427.0 397.5,425.4 398.0,414.0 402.7,407.0 408.6,404.7 423.4,400.3 430.0,397.5 435.5,394.8 443.6,392.8 445.0,388.7 440.9,380.5 438.2,374.4 442.3,368.2 446.4,364.1 445.7,358.7 447.7,351.8 453.2,346.4 461.4,340.2 466.8,338.2 477.7,334.1 481.2,327.3 490.0,325.9 499.6,324.6 507.8,326.6 511.9,321.8 520.0,316.4 528.2,314.3 535.0,315.0 544.6,318.4 547.3,324.6 555.5,328.0 563.7,333.4 567.8,340.9" fill="none" stroke="#000a78" stroke-width="3.2" stroke-linejoin="round" shape-rendering="crispEdges"/>
<polyline points="567.8,340.9 572.3,335.2 575.3,327.1 580.5,323.0 586.6,321.9 590.7,318.9 595.8,312.7 599.9,303.5 606.6,299.8 613.2,302.5 621.4,311.7" fill="none" stroke="#000a78" stroke-width="3.2" stroke-linejoin="round" shape-rendering="crispEdges"/>
<polyline points="623.4,319.9 628.5,329.1 633.7,330.7" fill="none" stroke="#000a78" stroke-width="3.2" stroke-linejoin="round" shape-rendering="crispEdges"/>
<polyline points="586.6,324.0 580.5,334.2 574.3,343.4 570.2,355.7 574.3,361.8 580.5,370.0 584.6,378.2 583.5,390.5 580.5,400.7 574.3,413.0 569.2,423.2" fill="none" stroke="#000a78" stroke-width="3.2" stroke-linejoin="round" shape-rendering="crispEdges"/>
<polyline points="569.2,423.2 570.0,425.6 572.3,429.4 577.1,430.7 590.7,435.5 605.0,441.6 621.4,446.8 641.8,446.8 662.3,443.7 682.8,441.2 690.0,440.9 705.9,438.6 715.0,433.0 729.8,426.7 732.6,419.3 740.9,412.5 753.2,410.5 760.0,411.9 781.0,412.7 786.8,416.0 800.2,420.4 807.0,420.4 823.7,415.4 832.1,411.9 838.8,405.1 843.8,403.5 863.9,402.0 866.3,397.3 875.8,389.3 884.6,381.4 890.9,371.8 895.7,363.9 899.1,358.3 903.2,361.4 911.4,368.5 919.6,375.7 927.7,381.8 938.0,392.1" fill="none" stroke="#000a78" stroke-width="3.2" stroke-linejoin="round" shape-rendering="crispEdges"/>
<polyline points="933.9,395.1 930.8,398.2 931.8,400.3 940.0,406.4 948.2,414.6 956.4,418.7 961.5,429.9 963.4,441.4 966.8,449.5 973.6,455.0 976.4,459.8 969.5,464.5 975.0,471.4 987.3,476.1 1002.3,477.5 1007.7,480.2 1021.3,494.5 1032.2,505.4 1039.1,508.2 1050.0,510.9 1063.6,521.8 1071.8,531.3 1078.6,546.3" fill="none" stroke="#000a78" stroke-width="3.2" stroke-linejoin="round" shape-rendering="crispEdges"/>
<polyline points="1078.6,546.3 1084.5,546.6 1088.2,543.6 1100.9,539.1 1110.0,534.5 1129.1,533.6 1135.5,530.9 1136.4,525.5 1142.7,522.7 1156.4,517.3 1172.1,516.0 1171.8,507.3 1169.0,496.4 1168.0,493.6" fill="none" stroke="#000a78" stroke-width="3.2" stroke-linejoin="round" shape-rendering="crispEdges"/>
<polyline points="634.7,380.3 641.8,384.3 648.0,387.4 656.2,383.3 668.4,380.3 682.8,376.2 693.0,374.1 700.0,372.6 703.2,370.0 710.2,363.4 713.3,359.3 714.3,354.2" fill="none" stroke="#000a78" stroke-width="3.2" stroke-linejoin="round" shape-rendering="crispEdges"/>
<polyline points="715.3,331.7 722.5,332.7 727.6,330.7 732.7,332.7 740.9,326.6 749.1,323.5 755.2,321.5 763.4,324.6 771.6,327.6 781.8,329.7 789.0,331.7 789.8,336.5" fill="none" stroke="#000a78" stroke-width="3.2" stroke-linejoin="round" shape-rendering="crispEdges"/>
<polyline points="792.0,342.0 794.1,344.0 802.3,351.2 810.5,361.4 818.7,370.6 831.0,375.7 840.5,380.0 841.6,384.5 847.2,387.0 855.9,384.5 871.8,379.8 887.7,370.2 891.7,365.5 897.3,361.5 899.1,358.3" fill="none" stroke="#000a78" stroke-width="3.2" stroke-linejoin="round" shape-rendering="crispEdges"/>
<polyline points="899.1,358.3 905.2,361.4 918.0,374.0 924.0,370.4 941.9,369.2 947.9,372.2 959.9,371.6 971.9,373.4 973.7,378.7 980.8,380.0 986.8,378.1 990.7,368.3 996.4,365.5 1004.9,362.6 1013.4,361.5 1023.6,362.3 1023.0,358.6 1020.2,353.0 1018.0,348.4 1021.4,349.0 1024.2,347.8 1023.0,345.0 1019.1,339.9 1019.7,334.8 1021.4,331.4 1031.6,331.4 1041.9,330.3 1047.1,325.6 1055.2,326.6 1065.5,333.8 1075.7,339.9 1080.8,346.0 1083.9,354.2" fill="none" stroke="#000a78" stroke-width="3.2" stroke-linejoin="round" shape-rendering="crispEdges"/>
<polyline points="1082.9,359.3 1085.9,369.6 1085.9,381.8 1083.9,396.2 1080.8,410.5 1075.7,418.7 1078.8,428.9 1086.1,432.2 1094.3,443.4 1100.5,454.7 1108.6,460.8 1127.1,467.0 1141.4,474.1 1147.5,480.3 1157.7,488.4 1168.0,493.6" fill="none" stroke="#000a78" stroke-width="3.2" stroke-linejoin="round" shape-rendering="crispEdges"/>
<polyline points="1168.0,493.6 1174.1,486.4 1172.1,472.1 1174.1,457.7 1175.1,447.5 1172.1,439.3 1174.1,431.2 1180.0,427.7 1188.2,425.0 1197.7,419.5 1199.1,415.5 1203.2,404.5 1207.3,393.6 1210.0,384.1 1219.5,378.6 1226.4,373.2 1223.6,366.4 1230.5,360.9 1229.1,355.5 1225.0,354.1 1227.7,351.4 1234.5,350.0 1237.3,341.8 1240.7,338.4 1244.1,339.1 1250.9,343.2 1255.0,347.3 1256.4,351.4 1259.1,348.6 1259.8,345.9" fill="none" stroke="#000a78" stroke-width="3.2" stroke-linejoin="round" shape-rendering="crispEdges"/>
<polyline points="1168.0,493.6 1182.3,491.5 1196.6,486.4 1216.1,479.2 1218.1,474.1 1215.0,468.0" fill="none" stroke="#000a78" stroke-width="3.2" stroke-linejoin="round" shape-rendering="crispEdges"/>
<polyline points="1215.0,468.0 1221.2,455.7 1225.0,440.0 1227.7,429.1 1231.8,418.2 1234.5,411.4" fill="none" stroke="#000a78" stroke-width="3" stroke-dasharray="5 2.5"/>
<polyline points="1234.5,411.4 1240.0,411.4 1237.3,405.9 1235.9,396.4 1240.0,385.5" fill="none" stroke="#000a78" stroke-width="3.2" stroke-linejoin="round" shape-rendering="crispEdges"/>
<polyline points="1240.0,385.5 1244.1,374.5 1246.8,363.6 1250.9,356.8 1256.4,351.4 1259.8,345.9" fill="none" stroke="#000a78" stroke-width="3" stroke-dasharray="5 2.5"/>
<polyline points="1259.8,345.9 1263.2,350.0 1268.6,359.5 1275.5,367.7 1276.8,376.8 1283.6,381.4 1292.7,389.3 1301.8,398.4 1309.8,403.0 1317.7,405.2 1324.5,409.8 1333.6,416.6 1342.7,425.7 1347.3,432.5" fill="none" stroke="#000a78" stroke-width="3.2" stroke-linejoin="round" shape-rendering="crispEdges"/>
<polyline points="1347.3,432.5 1340.5,434.8 1331.4,435.9 1322.3,430.2 1315.5,420.0 1309.8,415.5 1299.5,408.6 1295.0,400.7 1287.0,391.6 1279.1,381.4 1275.7,376.8" fill="none" stroke="#000a78" stroke-width="3.2" stroke-linejoin="round" shape-rendering="crispEdges"/>
<g font-family="Liberation Sans, sans-serif" font-weight="bold" font-size="12" fill="#000">
<text x="357" y="441.8">W</text><text x="483.8" y="713">S</text><text x="1149.3" y="398.8">N</text><text x="1274" y="669.8">E</text>
</g>
<line x1="334.5" y1="396" x2="334.5" y2="422" stroke="#000" stroke-width="1"/>
<rect x="327.5" y="382.5" width="14" height="13" fill="#fff" stroke="#000" stroke-width="1"/>
<rect x="329.5" y="384" width="10.1" height="9.9" rx="1" fill="#1a9a2a"/><path d="M329.5,384 h10.1 v5 l-2,-0.5 l-2,-1 h-4 v3 h-2.1 z" fill="#087a10"/><path d="M331,388 l4.5,1.5 l3,1 v1.5 h-7.5 z" fill="#e8f8c0"/><rect x="329.5" y="392" width="10.1" height="1.9" fill="#0a8a1a"/>
<text transform="translate(338.3,369.2) rotate(-90)" font-family="Liberation Sans, sans-serif" font-size="10" fill="#333" textLength="83" lengthAdjust="spacingAndGlyphs">Schneckenthalerhof</text>
<line x1="606.5" y1="273" x2="606.5" y2="299.5" stroke="#000" stroke-width="1"/>
<rect x="599.5" y="259.5" width="14" height="13" fill="#fff" stroke="#000" stroke-width="1"/>
<use href="#mtn" x="599" y="259"/>
<text transform="translate(610.3,246.3) rotate(-90)" font-family="Liberation Sans, sans-serif" font-size="10" fill="#333" textLength="70" lengthAdjust="spacingAndGlyphs">Passo Di Lavazè</text>
<line x1="898.5" y1="330" x2="898.5" y2="358" stroke="#000" stroke-width="1"/>
<rect x="891.5" y="316.5" width="14" height="13" fill="#fff" stroke="#000" stroke-width="1"/>
<use href="#mtn" x="891" y="316"/>
<text transform="translate(902.3,303.4) rotate(-90)" font-family="Liberation Sans, sans-serif" font-size="10" fill="#333" textLength="65" lengthAdjust="spacingAndGlyphs">Passo Di Valles</text>
<line x1="1054.5" y1="298" x2="1054.5" y2="326" stroke="#000" stroke-width="1"/>
<rect x="1047.5" y="284.5" width="14" height="13" fill="#fff" stroke="#000" stroke-width="1"/>
<rect x="1049.3" y="287.2" width="10.4" height="9" rx="1.2" fill="#2878e0"/><rect x="1050.8" y="289.2" width="5" height="5" fill="#80b8f0"/><circle cx="1053.3" cy="291.7" r="1.3" fill="#000"/><path d="M1057.5,287 l1.8,1.2 v1.5 h-2.5 z" fill="#0a2050"/><rect x="1049.3" y="287.2" width="10.4" height="1" fill="#1050b0"/>
<text transform="translate(1058.3,271.6) rotate(-90)" font-family="Liberation Sans, sans-serif" font-size="10" fill="#333" textLength="61" lengthAdjust="spacingAndGlyphs">Lago di Fedaia</text>
<line x1="1242.5" y1="312" x2="1242.5" y2="338" stroke="#000" stroke-width="1"/>
<rect x="1235.5" y="298.5" width="14" height="13" fill="#fff" stroke="#000" stroke-width="1"/>
<use href="#mtn" x="1235" y="298"/>
<text transform="translate(1246.3,285.1) rotate(-90)" font-family="Liberation Sans, sans-serif" font-size="10" fill="#333" textLength="81" lengthAdjust="spacingAndGlyphs">Passo Di Falzarego</text>
<line x1="1259.5" y1="319" x2="1259.5" y2="346" stroke="#000" stroke-width="1"/>
<rect x="1252.5" y="305.5" width="14" height="13" fill="#fff" stroke="#000" stroke-width="1"/>
<use href="#mtn" x="1252" y="305"/>
<text transform="translate(1263.3,292.5) rotate(-90)" font-family="Liberation Sans, sans-serif" font-size="10" fill="#333" textLength="48" lengthAdjust="spacingAndGlyphs">Passo Giau</text>
<text x="325.7" y="770.2" font-family="Liberation Sans, sans-serif" font-size="11" fill="#222" textLength="988" lengthAdjust="spacingAndGlyphs" xml:space="preserve">Track: ACTIVE LOG: 20 JUN 2009 09:09  ,  TP: 0 - 8935  ,  Länge: 280,894 km  ,  Höhen: 0,00 - 2247,22 m  ,  Startzeit: 20.06.2009 11:39:03.000  ,  Geschwindigkeit: 29,30 km/h  ,  Zeitraum: 09:35:14.000</text>
<text x="1372.7" y="873.9" font-family="Liberation Sans, sans-serif" font-size="10" fill="#222" textLength="286" lengthAdjust="spacingAndGlyphs">Grafik erstellt von GPS-Track-Analyse.NET (www.gps-freeware.de)</text>
</svg></body></html>
